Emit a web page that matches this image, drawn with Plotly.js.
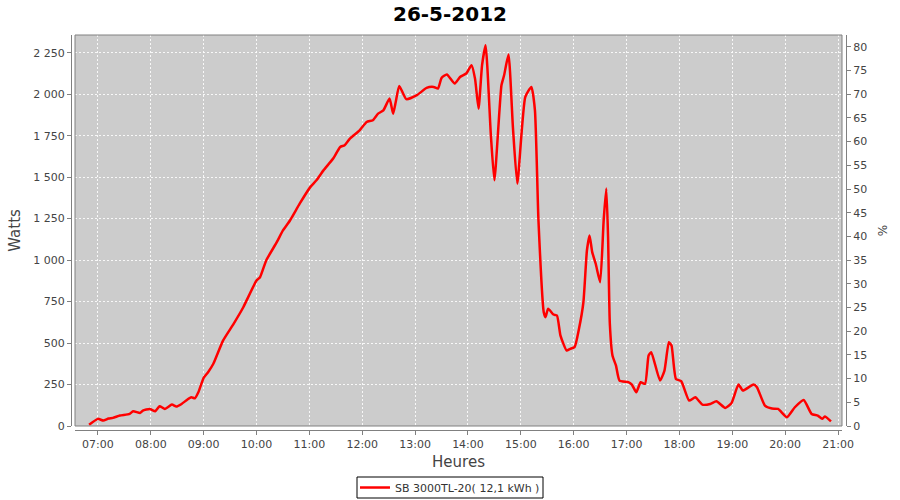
<!DOCTYPE html>
<html>
<head>
<meta charset="utf-8">
<script src="https://cdn.plot.ly/plotly-3.0.1.min.js"></script>
<style>html,body{margin:0;padding:0;background:#fff;}#chart{width:900px;height:500px;}</style>
</head>
<body>
<div id="chart"></div>
<script>
// Time of day (26-5-2012)
const times = ["06:50","07:00","07:06","07:12","07:17","07:25","07:36","07:40","07:48","07:51","07:59",
"08:05","08:10","08:16","08:24","08:29","08:35","08:41","08:46","08:50","08:54",
"09:00","09:05","09:11","09:22","09:34","09:45","10:00","10:04","10:11","10:23","10:30","10:38","10:49",
"11:01","11:08","11:16","11:27","11:35","11:40","11:46","11:57","12:05","12:12","12:18","12:24","12:31",
"12:35","12:38","12:42","12:50","13:02","13:13","13:21","13:26","13:30","13:36","13:45","13:51","13:58",
"14:04","14:08","14:12","14:16","14:20","14:26","14:30","14:38","14:41","14:46","14:51","14:56",
"15:05","15:12","15:16","15:20","15:26","15:28","15:31","15:37","15:41","15:45","15:52","15:56",
"16:01","16:06","16:11","16:15","16:18","16:21","16:25","16:30","16:34","16:37","16:39","16:41","16:44",
"16:48","16:52","17:02","17:06","17:11","17:16","17:21","17:25","17:28","17:38","17:43","17:48","17:51",
"17:56","18:02","18:11","18:18","18:26","18:35","18:42","18:52","18:59","19:07","19:12","19:24","19:28",
"19:37","19:45","19:52","20:02","20:11","20:21","20:30","20:37","20:42","20:45","20:52"];
// Power in Watts
const watts = [7,43,33,45,49,63,73,89,79,93,103,
89,119,103,129,117,133,157,173,167,203,
290,324,375,515,616,716,877,897,998,1108,1179,1239,1340,
1440,1481,1541,1612,1682,1692,1732,1782,1833,1843,1883,1903,1974,
1883,1953,2050,1970,1994,2038,2044,2034,2098,2119,2064,2104,2125,
2175,2094,1913,2175,2295,1752,1481,2054,2114,2239,1802,1461,
1983,2044,1903,1239,686,656,707,672,666,545,455,465,
475,586,746,1058,1149,1048,978,867,1239,1431,1139,616,425,
364,274,264,250,203,264,254,425,445,274,334,505,485,
284,270,153,173,129,133,149,109,137,250,214,250,234,
123,105,103,53,113,157,73,63,43,57,28];
const day = "2012-05-26 ";
const seriesName = "SB 3000TL-20( 12,1 kWh )";
const chartTitle = "26-5-2012";

const xs = times.map(t => day + t);
const font = "DejaVu Sans";
const tickFont = {family: font, size: 11, color: "#444"};
const titleFont = {family: font, size: 15, color: "#444"};

const traces = [
  {x: xs, y: watts, type: "scatter", mode: "lines", name: seriesName,
   line: {color: "#ff0000", width: 2.5, shape: "spline", smoothing: 0.5}, hoverinfo: "x+y"},
  {x: [xs[0]], y: [null], yaxis: "y2", type: "scatter", mode: "lines", showlegend: false, hoverinfo: "skip"}
];

const layout = {
  width: 900, height: 500,
  paper_bgcolor: "#ffffff", plot_bgcolor: "#cccccc",
  separators: ", ",
  margin: {l: 71, r: 54, t: 35, b: 70, autoexpand: false},
  title: {text: chartTitle, font: {family: font, size: 20, color: "#000", weight: "bold"},
          x: 0.5, xref: "container", y: 0.972, yref: "container", yanchor: "middle"},
  showlegend: true,
  legend: {orientation: "h", x: 0.489, xanchor: "center", y: -0.1456, yanchor: "middle",
           borderwidth: 0, bgcolor: "rgba(0,0,0,0)",
           font: {family: font, size: 11, color: "#333"}, itemwidth: 30},
  xaxis: {type: "date", domain: [4/775, 771/775], anchor: "free", position: 0, automargin: false,
          range: [day + "06:34", day + "21:04:30"],
          dtick: 3600000, tick0: day + "07:00", tickformat: "%H:%M",
          showgrid: true, gridcolor: "rgba(255,255,255,0.85)", gridwidth: 1, griddash: "2px,2px",
          showline: true, linecolor: "#808080", linewidth: 1,
          ticks: "outside", ticklen: 4, tickcolor: "#808080",
          tickfont: tickFont, zeroline: false,
          title: {text: "Heures", font: titleFont, standoff: 6}},
  yaxis: {domain: [4/395, 1], anchor: "free", position: 0, automargin: false,
          range: [0, 2357], dtick: 250, tick0: 0, tickformat: ",d",
          showgrid: true, gridcolor: "rgba(255,255,255,0.85)", gridwidth: 1, griddash: "2px,2px",
          showline: true, linecolor: "#808080", linewidth: 1,
          ticks: "outside", ticklen: 4, tickcolor: "#808080",
          tickfont: tickFont, zeroline: false,
          title: {text: "Watts", font: titleFont, standoff: 8}},
  yaxis2: {overlaying: "y", side: "right", anchor: "free", position: 1, automargin: false,
           range: [0, 82.5], dtick: 5, tick0: 0,
           showgrid: false, zeroline: false,
           showline: true, linecolor: "#808080", linewidth: 1,
           ticks: "outside", ticklen: 4, tickcolor: "#808080",
           tickfont: tickFont,
           title: {text: "%", font: {family: font, size: 12, color: "#444"}, standoff: 12}},
  shapes: [
    {type: "rect", xref: "x domain", yref: "y domain", x0: 0, x1: 1, y0: 0, y1: 1,
     line: {color: "#808080", width: 1}, fillcolor: "rgba(0,0,0,0)", layer: "above"},
    {type: "rect", xref: "paper", yref: "paper",
     x0: (357 - 71) / 775, x1: (543 - 71) / 775, y0: (430 - 498) / 395, y1: (430 - 477) / 395,
     line: {color: "#000", width: 1}, fillcolor: "#fff", layer: "below"}
  ]
};

Plotly.newPlot("chart", traces, layout, {displayModeBar: false, staticPlot: true});
</script>
</body>
</html>
